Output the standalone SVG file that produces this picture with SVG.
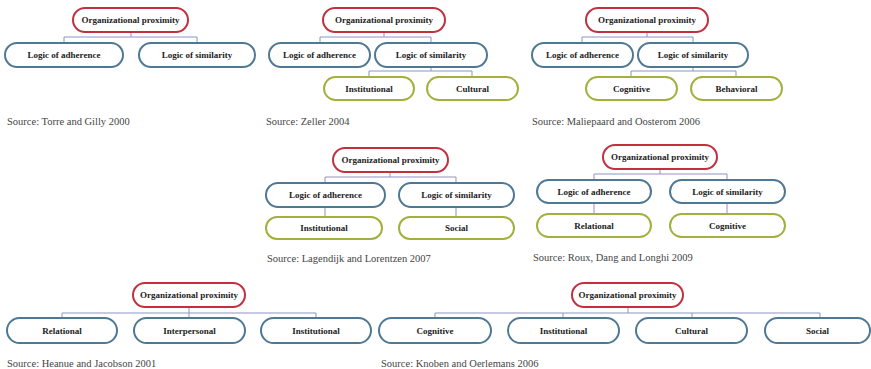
<svg xmlns="http://www.w3.org/2000/svg" width="871" height="369" viewBox="0 0 871 369" font-family="'Liberation Serif', 'Times New Roman', serif">
<style>
.r{fill:#fff;stroke:#c23040;stroke-width:2}
.b{fill:#fff;stroke:#4e7893;stroke-width:2}
.g{fill:#fff;stroke:#a3b03c;stroke-width:2}
.t{font-family:'Liberation Serif','Times New Roman',serif;font-weight:bold;font-size:9px;fill:#222;text-anchor:middle}
.s{font-family:'Liberation Serif','Times New Roman',serif;font-size:10.5px;fill:#444}
.c{fill:none;stroke:#8f93c4;stroke-width:1}
</style>
<rect width="871" height="369" fill="#fff"/>
<g id="connectors">
<path class="c" d="M131 32V37M64 43V37H197V43"/>
<path class="c" d="M384 32V37M320 43V37H431V43M431 67V71M369 77V71H472V77"/>
<path class="c" d="M647 32V37M582 43V37H693V43M693 67V71M631 77V71H736V77"/>
<path class="c" d="M390 172V177M325 183V177H456V183M325 207V217M456 207V217"/>
<path class="c" d="M660 169V174M594 180V174H727V180M594 203V214M727 203V214"/>
<path class="c" d="M189 307V313M62 318V313H316V318M189 313V318"/>
<path class="c" d="M628 307V313M435 318V313H820V318M563 313V318M692 313V318"/>
</g>
<g id="d1">
<g id="d1-root"><rect class="r" x="73" y="8" width="115" height="24" rx="12"/><text class="t" x="130.5" y="23">Organizational proximity</text></g>
<g id="d1-adh"><rect class="b" x="5" y="43" width="118" height="24" rx="12"/><text class="t" x="64" y="58">Logic of adherence</text></g>
<g id="d1-sim"><rect class="b" x="139" y="43" width="116" height="24" rx="12"/><text class="t" x="197" y="58">Logic of similarity</text></g>
<text class="s" x="7" y="125">Source: Torre and Gilly 2000</text>
</g>
<g id="d2">
<g id="d2-root"><rect class="r" x="323" y="8" width="122" height="24" rx="12"/><text class="t" x="384" y="23">Organizational proximity</text></g>
<g id="d2-adh"><rect class="b" x="269" y="43" width="101" height="24" rx="12"/><text class="t" x="319.5" y="58">Logic of adherence</text></g>
<g id="d2-sim"><rect class="b" x="375" y="43" width="112" height="24" rx="12"/><text class="t" x="431" y="58">Logic of similarity</text></g>
<g id="d2-inst"><rect class="g" x="324" y="77" width="90" height="23" rx="11.5"/><text class="t" x="369" y="91.5">Institutional</text></g>
<g id="d2-cult"><rect class="g" x="427" y="77" width="91" height="23" rx="11.5"/><text class="t" x="472.5" y="91.5">Cultural</text></g>
<text class="s" x="266" y="125">Source: Zeller 2004</text>
</g>
<g id="d3">
<g id="d3-root"><rect class="r" x="586" y="8" width="122" height="24" rx="12"/><text class="t" x="647" y="23">Organizational proximity</text></g>
<g id="d3-adh"><rect class="b" x="532" y="43" width="101" height="24" rx="12"/><text class="t" x="582.5" y="58">Logic of adherence</text></g>
<g id="d3-sim"><rect class="b" x="638" y="43" width="110" height="24" rx="12"/><text class="t" x="693" y="58">Logic of similarity</text></g>
<g id="d3-cog"><rect class="g" x="586" y="77" width="91" height="23" rx="11.5"/><text class="t" x="631.5" y="91.5">Cognitive</text></g>
<g id="d3-beh"><rect class="g" x="691" y="77" width="91" height="23" rx="11.5"/><text class="t" x="736.5" y="91.5">Behavioral</text></g>
<text class="s" x="532" y="125">Source: Maliepaard and Oosterom 2006</text>
</g>
<g id="d4">
<g id="d4-root"><rect class="r" x="333" y="148" width="115" height="24" rx="12"/><text class="t" x="390.5" y="163">Organizational proximity</text></g>
<g id="d4-adh"><rect class="b" x="266" y="183" width="119" height="24" rx="12"/><text class="t" x="325.5" y="198">Logic of adherence</text></g>
<g id="d4-sim"><rect class="b" x="399" y="183" width="115" height="24" rx="12"/><text class="t" x="456.5" y="198">Logic of similarity</text></g>
<g id="d4-inst"><rect class="g" x="266" y="217" width="116" height="22" rx="11"/><text class="t" x="324" y="231">Institutional</text></g>
<g id="d4-soc"><rect class="g" x="399" y="217" width="115" height="22" rx="11"/><text class="t" x="456.5" y="231">Social</text></g>
<text class="s" x="267" y="262">Source: Lagendijk and Lorentzen 2007</text>
</g>
<g id="d5">
<g id="d5-root"><rect class="r" x="603" y="145" width="114" height="24" rx="12"/><text class="t" x="660" y="160">Organizational proximity</text></g>
<g id="d5-adh"><rect class="b" x="537" y="180" width="114" height="23" rx="11.5"/><text class="t" x="594" y="194.5">Logic of adherence</text></g>
<g id="d5-sim"><rect class="b" x="670" y="180" width="115" height="23" rx="11.5"/><text class="t" x="727.5" y="194.5">Logic of similarity</text></g>
<g id="d5-rel"><rect class="g" x="537" y="214" width="114" height="23" rx="11.5"/><text class="t" x="594" y="228.5">Relational</text></g>
<g id="d5-cog"><rect class="g" x="670" y="214" width="115" height="23" rx="11.5"/><text class="t" x="727.5" y="228.5">Cognitive</text></g>
<text class="s" x="533" y="261">Source: Roux, Dang and Longhi 2009</text>
</g>
<g id="d6">
<g id="d6-root"><rect class="r" x="133" y="283" width="112" height="24" rx="12"/><text class="t" x="189" y="298">Organizational proximity</text></g>
<g id="d6-rel"><rect class="b" x="7" y="318" width="110" height="25" rx="12.5"/><text class="t" x="62" y="333.5">Relational</text></g>
<g id="d6-int"><rect class="b" x="134" y="318" width="111" height="25" rx="12.5"/><text class="t" x="189.5" y="333.5">Interpersonal</text></g>
<g id="d6-inst"><rect class="b" x="261" y="318" width="110" height="25" rx="12.5"/><text class="t" x="316" y="333.5">Institutional</text></g>
<text class="s" x="7" y="367">Source: Heanue and Jacobson 2001</text>
</g>
<g id="d7">
<g id="d7-root"><rect class="r" x="572" y="283" width="111" height="24" rx="12"/><text class="t" x="627.5" y="298">Organizational proximity</text></g>
<g id="d7-cog"><rect class="b" x="379" y="318" width="112" height="25" rx="12.5"/><text class="t" x="435" y="333.5">Cognitive</text></g>
<g id="d7-inst"><rect class="b" x="508" y="318" width="111" height="25" rx="12.5"/><text class="t" x="563.5" y="333.5">Institutional</text></g>
<g id="d7-cult"><rect class="b" x="636" y="318" width="111" height="25" rx="12.5"/><text class="t" x="691.5" y="333.5">Cultural</text></g>
<g id="d7-soc"><rect class="b" x="765" y="318" width="105" height="25" rx="12.5"/><text class="t" x="817.5" y="333.5">Social</text></g>
<text class="s" x="381" y="367">Source: Knoben and Oerlemans 2006</text>
</g>
</svg>
